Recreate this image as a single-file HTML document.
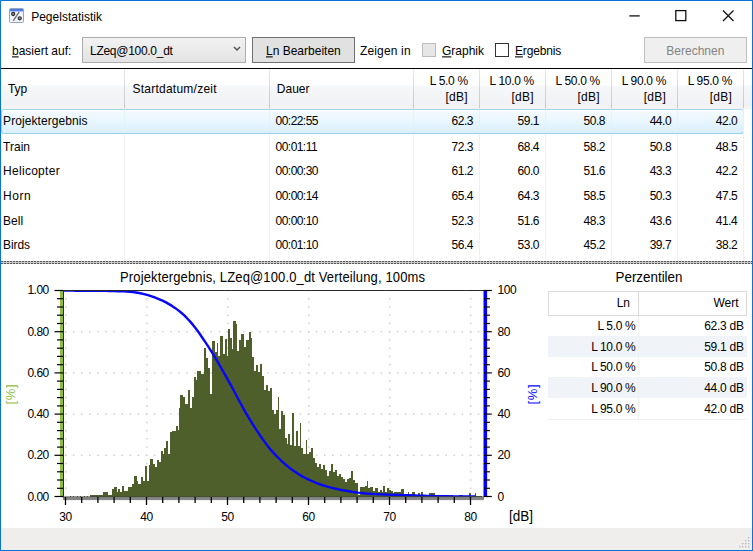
<!DOCTYPE html>
<html><head><meta charset="utf-8"><title>Pegelstatistik</title>
<style>
html,body{margin:0;padding:0;}
body{width:753px;height:551px;overflow:hidden;background:#fff;font-family:"Liberation Sans",sans-serif;font-size:12px;color:#000;position:relative;}
.a{position:absolute;white-space:nowrap;}
.t{position:absolute;white-space:nowrap;line-height:14px;height:14px;transform:scaleY(1.08);transform-origin:50% 55%;}
.r{text-align:right;}
u{text-decoration:underline;text-underline-offset:1px;}
.ar{font-family:"Liberation Sans",sans-serif;font-size:12px;letter-spacing:-0.5px;color:#000;}
</style></head><body>

<div class="a" style="left:0;top:0;width:753px;height:551px;background:#0a74d6;"></div>
<div class="a" style="left:1px;top:1px;width:751px;height:549px;background:#fff;"></div>
<svg class="a" style="left:9px;top:8px" width="15" height="15" viewBox="0 0 15 15">
<rect x="0.5" y="0.5" width="14" height="14" rx="1" fill="#eef2fb" stroke="#9aa1bb"/>
<rect x="1" y="1" width="13" height="2.4" fill="#4a7de6"/>
<path d="M10.2 3.9 L4.2 12.9" stroke="#6e6e6e" stroke-width="1.3" fill="none"/>
<circle cx="4.2" cy="6" r="1.6" fill="#8a8a8a" stroke="#2e2e2e" stroke-width="1.1"/>
<circle cx="10.7" cy="10.3" r="1.6" fill="#8a8a8a" stroke="#2e2e2e" stroke-width="1.1"/>
</svg>
<div class="t" style="left:31.2px;top:9.7px;">Pegelstatistik</div>
<svg class="a" style="left:620px;top:1px" width="131" height="30" viewBox="0 0 131 30">
<path d="M9.3 14.9h10.4" stroke="#111" stroke-width="1.3" fill="none"/>
<rect x="55.8" y="9.6" width="10" height="10" stroke="#111" stroke-width="1.3" fill="none"/>
<path d="M103 9.5l10.5 10.5M113.5 9.5l-10.5 10.5" stroke="#111" stroke-width="1.25" fill="none"/>
</svg>
<div class="t" style="left:12px;top:43.7px;"><u>b</u>asiert auf:</div>
<div class="a" style="left:82px;top:37px;width:162px;height:24px;border:1px solid #adadad;background:linear-gradient(#f2f2f2,#e3e3e3);box-sizing:content-box;"></div>
<div class="t" style="left:90px;top:43.7px;letter-spacing:-0.28px;">LZeq@100.0_dt</div>
<svg class="a" style="left:233px;top:46px" width="8" height="6" viewBox="0 0 8 6"><path d="M1 1l3 3L7 1" stroke="#555" stroke-width="1.5" fill="none"/></svg>
<div class="a" style="left:252px;top:37px;width:101px;height:24px;border:1px solid #707070;background:#e1e1e1;"></div>
<div class="t" style="left:266px;top:43.7px;"><u>L</u>n Bearbeiten</div>
<div class="t" style="left:360px;top:43.7px;letter-spacing:0.15px;">Zeigen in</div>
<div class="a" style="left:422px;top:43px;width:12px;height:12px;border:1px solid #bcbcbc;background:#e6e6e6;"></div>
<div class="t" style="left:442px;top:43.7px;"><u>G</u>raphik</div>
<div class="a" style="left:495px;top:43px;width:12px;height:12px;border:1px solid #333;background:#fff;"></div>
<div class="t" style="left:515px;top:43.7px;letter-spacing:-0.15px;"><u>E</u>rgebnis</div>
<div class="a" style="left:644px;top:37px;width:101px;height:24px;border:1px solid #bfbfbf;background:#efefef;"></div>
<div class="t" style="left:666.3px;top:43.7px;color:#838383;">Berechnen</div>
<div class="a" style="left:1px;top:68px;width:751px;height:1px;background:#000;"></div>
<div class="a" style="left:1px;top:69px;width:751px;height:39px;background:linear-gradient(#fff 0%,#fff 40%,#f6f7f9 45%,#f0f1f4 100%);"></div>
<div class="a" style="left:1px;top:106px;width:751px;height:3px;background:linear-gradient(#f4f0f2,#f3f8f3,#f1e9f0);"></div>
<div class="a" style="left:124px;top:69px;width:1px;height:39px;background:linear-gradient(#e8e8e8,#c4c6c9);"></div>
<div class="a" style="left:124px;top:109px;width:1px;height:153px;background:#f1f1f1;"></div>
<div class="a" style="left:269px;top:69px;width:1px;height:39px;background:linear-gradient(#e8e8e8,#c4c6c9);"></div>
<div class="a" style="left:269px;top:109px;width:1px;height:153px;background:#f1f1f1;"></div>
<div class="a" style="left:413px;top:69px;width:1px;height:39px;background:linear-gradient(#e8e8e8,#c4c6c9);"></div>
<div class="a" style="left:413px;top:109px;width:1px;height:153px;background:#f1f1f1;"></div>
<div class="a" style="left:479px;top:69px;width:1px;height:39px;background:linear-gradient(#e8e8e8,#c4c6c9);"></div>
<div class="a" style="left:479px;top:109px;width:1px;height:153px;background:#f1f1f1;"></div>
<div class="a" style="left:545px;top:69px;width:1px;height:39px;background:linear-gradient(#e8e8e8,#c4c6c9);"></div>
<div class="a" style="left:545px;top:109px;width:1px;height:153px;background:#f1f1f1;"></div>
<div class="a" style="left:611px;top:69px;width:1px;height:39px;background:linear-gradient(#e8e8e8,#c4c6c9);"></div>
<div class="a" style="left:611px;top:109px;width:1px;height:153px;background:#f1f1f1;"></div>
<div class="a" style="left:677px;top:69px;width:1px;height:39px;background:linear-gradient(#e8e8e8,#c4c6c9);"></div>
<div class="a" style="left:677px;top:109px;width:1px;height:153px;background:#f1f1f1;"></div>
<div class="a" style="left:743px;top:69px;width:1px;height:39px;background:linear-gradient(#e8e8e8,#c4c6c9);"></div>
<div class="a" style="left:743px;top:109px;width:1px;height:153px;background:#f1f1f1;"></div>
<div class="t" style="left:7.9px;top:81.8px;">Typ</div>
<div class="t" style="left:132.5px;top:81.8px;letter-spacing:0.24px;">Startdatum/zeit</div>
<div class="t" style="left:276.8px;top:81.8px;">Dauer</div>
<div class="t r" style="left:407.8px;width:60px;top:74.2px;letter-spacing:-0.33px;">L 5.0 %</div>
<div class="t r" style="left:407.8px;width:60px;top:89.5px;letter-spacing:0.25px;">[dB]</div>
<div class="t r" style="left:473.9px;width:60px;top:74.2px;letter-spacing:-0.33px;">L 10.0 %</div>
<div class="t r" style="left:473.9px;width:60px;top:89.5px;letter-spacing:0.25px;">[dB]</div>
<div class="t r" style="left:539.9px;width:60px;top:74.2px;letter-spacing:-0.33px;">L 50.0 %</div>
<div class="t r" style="left:539.9px;width:60px;top:89.5px;letter-spacing:0.25px;">[dB]</div>
<div class="t r" style="left:606.0px;width:60px;top:74.2px;letter-spacing:-0.33px;">L 90.0 %</div>
<div class="t r" style="left:606.0px;width:60px;top:89.5px;letter-spacing:0.25px;">[dB]</div>
<div class="t r" style="left:672.0px;width:60px;top:74.2px;letter-spacing:-0.33px;">L 95.0 %</div>
<div class="t r" style="left:672.0px;width:60px;top:89.5px;letter-spacing:0.25px;">[dB]</div>
<div class="a" style="left:1px;top:109px;width:741px;height:23px;border:1px solid #94d2f0;border-top-color:#a2d8ec;border-radius:3px;background:linear-gradient(#fdfeff 0,#f3fafe 8%,#e6f5fd 55%,#dbeffc 100%);"></div>
<div class="a" style="left:124px;top:110px;width:1px;height:23px;background:#e3f1f9;"></div>
<div class="a" style="left:269px;top:110px;width:1px;height:23px;background:#e3f1f9;"></div>
<div class="a" style="left:413px;top:110px;width:1px;height:23px;background:#e3f1f9;"></div>
<div class="a" style="left:479px;top:110px;width:1px;height:23px;background:#e3f1f9;"></div>
<div class="a" style="left:545px;top:110px;width:1px;height:23px;background:#e3f1f9;"></div>
<div class="a" style="left:611px;top:110px;width:1px;height:23px;background:#e3f1f9;"></div>
<div class="a" style="left:677px;top:110px;width:1px;height:23px;background:#e3f1f9;"></div>
<div class="a" style="left:743px;top:110px;width:1px;height:23px;background:#e3f1f9;"></div>
<div class="t" style="left:3.1px;top:114.4px;letter-spacing:0.07px;">Projektergebnis</div>
<div class="t" style="left:275.6px;top:114.4px;letter-spacing:-0.55px;">00:22:55</div>
<div class="t r" style="left:423.0px;width:50px;top:114.4px;letter-spacing:-0.45px;">62.3</div>
<div class="t r" style="left:489.1px;width:50px;top:114.4px;letter-spacing:-0.45px;">59.1</div>
<div class="t r" style="left:555.1px;width:50px;top:114.4px;letter-spacing:-0.45px;">50.8</div>
<div class="t r" style="left:621.2px;width:50px;top:114.4px;letter-spacing:-0.45px;">44.0</div>
<div class="t r" style="left:687.3px;width:50px;top:114.4px;letter-spacing:-0.45px;">42.0</div>
<div class="t" style="left:3.1px;top:139.6px;letter-spacing:0.00px;">Train</div>
<div class="t" style="left:275.6px;top:139.6px;letter-spacing:-0.55px;">00:01:11</div>
<div class="t r" style="left:423.0px;width:50px;top:139.6px;letter-spacing:-0.45px;">72.3</div>
<div class="t r" style="left:489.1px;width:50px;top:139.6px;letter-spacing:-0.45px;">68.4</div>
<div class="t r" style="left:555.1px;width:50px;top:139.6px;letter-spacing:-0.45px;">58.2</div>
<div class="t r" style="left:621.2px;width:50px;top:139.6px;letter-spacing:-0.45px;">50.8</div>
<div class="t r" style="left:687.3px;width:50px;top:139.6px;letter-spacing:-0.45px;">48.5</div>
<div class="t" style="left:3.1px;top:164.3px;letter-spacing:0.28px;">Helicopter</div>
<div class="t" style="left:275.6px;top:164.3px;letter-spacing:-0.55px;">00:00:30</div>
<div class="t r" style="left:423.0px;width:50px;top:164.3px;letter-spacing:-0.45px;">61.2</div>
<div class="t r" style="left:489.1px;width:50px;top:164.3px;letter-spacing:-0.45px;">60.0</div>
<div class="t r" style="left:555.1px;width:50px;top:164.3px;letter-spacing:-0.45px;">51.6</div>
<div class="t r" style="left:621.2px;width:50px;top:164.3px;letter-spacing:-0.45px;">43.3</div>
<div class="t r" style="left:687.3px;width:50px;top:164.3px;letter-spacing:-0.45px;">42.2</div>
<div class="t" style="left:3.1px;top:188.9px;letter-spacing:0.50px;">Horn</div>
<div class="t" style="left:275.6px;top:188.9px;letter-spacing:-0.55px;">00:00:14</div>
<div class="t r" style="left:423.0px;width:50px;top:188.9px;letter-spacing:-0.45px;">65.4</div>
<div class="t r" style="left:489.1px;width:50px;top:188.9px;letter-spacing:-0.45px;">64.3</div>
<div class="t r" style="left:555.1px;width:50px;top:188.9px;letter-spacing:-0.45px;">58.5</div>
<div class="t r" style="left:621.2px;width:50px;top:188.9px;letter-spacing:-0.45px;">50.3</div>
<div class="t r" style="left:687.3px;width:50px;top:188.9px;letter-spacing:-0.45px;">47.5</div>
<div class="t" style="left:3.1px;top:213.6px;letter-spacing:0.00px;">Bell</div>
<div class="t" style="left:275.6px;top:213.6px;letter-spacing:-0.55px;">00:00:10</div>
<div class="t r" style="left:423.0px;width:50px;top:213.6px;letter-spacing:-0.45px;">52.3</div>
<div class="t r" style="left:489.1px;width:50px;top:213.6px;letter-spacing:-0.45px;">51.6</div>
<div class="t r" style="left:555.1px;width:50px;top:213.6px;letter-spacing:-0.45px;">48.3</div>
<div class="t r" style="left:621.2px;width:50px;top:213.6px;letter-spacing:-0.45px;">43.6</div>
<div class="t r" style="left:687.3px;width:50px;top:213.6px;letter-spacing:-0.45px;">41.4</div>
<div class="t" style="left:3.1px;top:238.3px;letter-spacing:-0.10px;">Birds</div>
<div class="t" style="left:275.6px;top:238.3px;letter-spacing:-0.55px;">00:01:10</div>
<div class="t r" style="left:423.0px;width:50px;top:238.3px;letter-spacing:-0.45px;">56.4</div>
<div class="t r" style="left:489.1px;width:50px;top:238.3px;letter-spacing:-0.45px;">53.0</div>
<div class="t r" style="left:555.1px;width:50px;top:238.3px;letter-spacing:-0.45px;">45.2</div>
<div class="t r" style="left:621.2px;width:50px;top:238.3px;letter-spacing:-0.45px;">39.7</div>
<div class="t r" style="left:687.3px;width:50px;top:238.3px;letter-spacing:-0.45px;">38.2</div>
<div class="a" style="left:1px;top:261px;width:751px;height:3px;background:#c9c9c9;"></div>
<div class="a" style="left:1px;top:261px;width:751px;height:1px;background-image:repeating-linear-gradient(90deg,#5a5a5a 0 2px,#c4c4c4 2px 3px);"></div>
<div class="a" style="left:1px;top:263px;width:751px;height:1px;background-image:repeating-linear-gradient(90deg,#5a5a5a 0 2px,#c4c4c4 2px 3px);"></div>
<div class="a" style="left:1px;top:528px;width:751px;height:22px;background:#f0eded;"></div>
<svg class="a" style="left:738.3px;top:536.1px" width="13" height="13" viewBox="0 0 13 13" fill="#b4b4be">
<rect x="10" y="1" width="1.3" height="1.3"/><rect x="7" y="4" width="1.3" height="1.3"/><rect x="10" y="4" width="1.3" height="1.3"/>
<rect x="4" y="7" width="1.3" height="1.3"/><rect x="7" y="7" width="1.3" height="1.3"/><rect x="10" y="7" width="1.3" height="1.3"/>
<rect x="1" y="10" width="1.3" height="1.3"/><rect x="4" y="10" width="1.3" height="1.3"/><rect x="7" y="10" width="1.3" height="1.3"/><rect x="10" y="10" width="1.3" height="1.3"/>
</svg>
<svg class="a" style="left:0;top:0" width="753" height="551" viewBox="0 0 753 551">
<path d="M64.7 331.7H484" stroke="#d2d2d2" stroke-width="1.5" stroke-dasharray="1.6 6.5" fill="none"/>
<path d="M64.7 372.9H484" stroke="#d2d2d2" stroke-width="1.5" stroke-dasharray="1.6 6.5" fill="none"/>
<path d="M64.7 414.1H484" stroke="#d2d2d2" stroke-width="1.5" stroke-dasharray="1.6 6.5" fill="none"/>
<path d="M64.7 455.3H484" stroke="#d2d2d2" stroke-width="1.5" stroke-dasharray="1.6 6.5" fill="none"/>
<path d="M65.8 289.7V496" stroke="#d2d2d2" stroke-width="1.5" stroke-dasharray="1.6 6.64" fill="none"/>
<path d="M146.8 289.7V496" stroke="#d2d2d2" stroke-width="1.5" stroke-dasharray="1.6 6.64" fill="none"/>
<path d="M227.8 289.7V496" stroke="#d2d2d2" stroke-width="1.5" stroke-dasharray="1.6 6.64" fill="none"/>
<path d="M308.8 289.7V496" stroke="#d2d2d2" stroke-width="1.5" stroke-dasharray="1.6 6.64" fill="none"/>
<path d="M389.8 289.7V496" stroke="#d2d2d2" stroke-width="1.5" stroke-dasharray="1.6 6.64" fill="none"/>
<path d="M470.8 289.7V496" stroke="#d2d2d2" stroke-width="1.5" stroke-dasharray="1.6 6.64" fill="none"/>
<path d="M64 496.5H64.0V496.5H66.5V495.7H67.0V496.5H70.0V495.7H71.0V496.5H73.0V495.7H74.0V496.5H77.0V495.7H78.0V496.5H80.0V495.7H81.0V496.5H84.0V495.7H85.0V496.5H87.0V495.7H88.0V496.5H90.0V495.2H103.0V492.2H108.0V495.2H111.5V489.2H114.0V487.2H116.5V491.8H118.0V489.2H120.0V492.2H121.5V486.2H124.0V490.8H128.0V487.2H132.0V483.8H134.0V475.8H136.5V480.8H138.0V483.8H140.5V476.8H142.5V480.8H144.5V466.2H146.5V480.8H148.5V464.9H150.0V458.9H152.5V464.3H154.5V466.8H156.5V460.3H159.0V461.9H160.5V450.9H162.5V453.9H164.0V447.9H166.0V440.9H168.0V453.9H170.0V431.9H172.0V430.9H175.5V425.9H177.5V429.9H179.0V408.0H180.0V394.8H182.5V397.4H184.5V403.8H187.5V390.2H189.5V407.8H191.5V396.8H193.5V376.8H196.0V379.8H197.0V370.9H201.0V373.9H204.0V347.5H206.0V357.9H208.0V367.9H210.0V393.8H212.0V340.9H215.0V351.9H217.0V342.9H218.0V355.9H219.5V335.5H222.5V353.9H224.5V338.9H226.5V355.9H228.0V328.9H230.0V337.9H231.5V348.9H233.0V321.0H235.5V324.0H237.0V350.9H239.0V339.9H241.0V334.3H244.0V346.9H246.0V339.9H248.5V331.9H250.5V337.9H251.5V356.9H253.5V370.9H255.5V364.9H258.0V371.9H260.0V363.5H262.0V375.8H264.0V389.8H266.0V384.8H268.0V390.8H270.0V388.0H271.5V410.0H273.5V414.0H276.0V410.0H277.5V397.0H279.0V428.9H281.0V411.0H283.0V415.0H284.5V437.9H286.5V443.9H288.0V433.9H290.0V444.9H292.0V413.0H294.0V445.9H296.0V430.9H298.0V445.9H299.5V422.9H301.0V447.9H303.0V453.9H305.5V439.9H307.0V453.9H309.0V451.9H311.0V448.3H313.0V457.9H315.0V462.9H317.0V466.8H319.0V464.3H321.0V468.8H322.5V464.9H324.5V469.8H326.5V475.8H328.5V470.8H330.5V463.9H332.5V471.8H334.5V469.8H336.5V475.8H338.5V473.8H340.5V476.8H342.5V478.8H345.0V481.8H347.0V479.4H349.0V477.8H351.0V470.8H352.5V479.8H354.5V482.8H357.5V494.8H360.0V487.2H362.0V486.8H364.5V485.8H366.5V481.4H368.0V487.8H370.0V486.7H373.0V491.4H375.0V487.5H378.0V492.2H380.0V489.8H381.5V491.8H382.5V486.3H384.5V492.2H386.5V487.5H389.0V489.5H390.5V491.1H392.5V493.3H394.0V492.4H401.0V489.0H404.0V494.9H407.5V492.2H409.0V494.1H412.0V492.2H414.5V495.6H418.0V493.3H419.5V495.3H421.0V492.2H422.5V495.6H429.0V493.0H435.0V495.6H440.0V495.1H441.5V495.7H449.5V495.3H453.0V495.7H459.0V495.3H462.5V495.7H469.0V493.3H471.0V495.7H474.5V493.3H476.0V495.9H481.5V496.5H485V496.5Z" fill="#4f5f2b" shape-rendering="crispEdges"/>
<clipPath id="cc"><rect x="64" y="290.6" width="412" height="205.9"/></clipPath>
<path d="M64.0 290.6 L67.0 290.6 L70.0 290.6 L73.0 290.6 L76.0 290.7 L79.0 290.7 L82.0 290.7 L85.0 290.7 L88.0 290.7 L91.0 290.7 L94.0 290.8 L97.0 290.8 L100.0 290.8 L103.0 290.8 L106.0 290.9 L109.0 291.0 L112.0 291.0 L115.0 291.1 L118.0 291.2 L121.0 291.3 L124.0 291.4 L127.0 291.6 L130.0 291.8 L133.0 292.1 L136.0 292.5 L139.0 293.0 L142.0 293.7 L145.0 294.4 L148.0 295.2 L151.0 296.1 L154.0 297.1 L157.0 298.3 L160.0 299.6 L163.0 300.9 L166.0 302.4 L169.0 304.1 L172.0 305.9 L175.0 307.9 L178.0 310.1 L181.0 312.5 L184.0 315.2 L187.0 318.2 L190.0 321.4 L193.0 324.9 L196.0 328.7 L199.0 332.8 L202.0 337.2 L205.0 341.6 L208.0 346.2 L211.0 350.9 L214.0 355.7 L217.0 360.7 L220.0 365.9 L223.0 371.1 L226.0 376.4 L229.0 381.8 L232.0 387.2 L235.0 392.7 L238.0 398.5 L241.0 404.2 L244.0 409.6 L247.0 414.8 L250.0 419.8 L253.0 424.6 L256.0 429.3 L259.0 433.8 L262.0 438.2 L265.0 442.4 L268.0 446.4 L271.0 450.1 L274.0 453.4 L277.0 456.6 L280.0 459.5 L283.0 462.3 L286.0 465.0 L289.0 467.4 L292.0 469.7 L295.0 471.8 L298.0 473.8 L301.0 475.6 L304.0 477.2 L307.0 478.8 L310.0 480.2 L313.0 481.5 L316.0 482.8 L319.0 483.9 L322.0 485.0 L325.0 485.9 L328.0 486.8 L331.0 487.6 L334.0 488.3 L337.0 489.0 L340.0 489.7 L343.0 490.3 L346.0 490.8 L349.0 491.3 L352.0 491.8 L355.0 492.2 L358.0 492.6 L361.0 492.9 L364.0 493.3 L367.0 493.6 L370.0 493.8 L373.0 494.0 L376.0 494.1 L379.0 494.3 L382.0 494.4 L385.0 494.5 L388.0 494.6 L391.0 494.7 L394.0 494.8 L397.0 494.9 L400.0 495.0 L403.0 495.1 L406.0 495.2 L409.0 495.3 L412.0 495.4 L415.0 495.5 L418.0 495.6 L421.0 495.7 L424.0 495.8 L427.0 495.9 L430.0 495.9 L433.0 496.0 L436.0 496.1 L439.0 496.2 L442.0 496.2 L445.0 496.3 L448.0 496.3 L451.0 496.4 L454.0 496.4 L457.0 496.4 L460.0 496.4 L463.0 496.5 L466.0 496.5 L469.0 496.5 L472.0 496.5 L475.0 496.5 L478.0 496.6 L481.0 496.6 L484.0 496.6" stroke="#0606f8" stroke-width="2.4" fill="none" stroke-linejoin="round" clip-path="url(#cc)"/>
<path d="M63 290.5H484" stroke="#2a2a2a" stroke-width="1" fill="none"/>
<path d="M63.5 290V497.5" stroke="#2a2a2a" stroke-width="1" fill="none"/>
<rect x="63" y="497.5" width="421" height="2.6" fill="#868686"/>
<rect x="63" y="496.5" width="421" height="1" fill="#3a3a3a"/>
<rect x="60" y="290" width="3" height="207" fill="#8ebe41"/>
<path d="M54.5 290.5H63" stroke="#000" stroke-width="1.2"/>
<path d="M57.0 298.7H63" stroke="#000" stroke-width="1.2"/>
<path d="M57.0 307.0H63" stroke="#000" stroke-width="1.2"/>
<path d="M57.0 315.2H63" stroke="#000" stroke-width="1.2"/>
<path d="M57.0 323.5H63" stroke="#000" stroke-width="1.2"/>
<path d="M54.5 331.7H63" stroke="#000" stroke-width="1.2"/>
<path d="M57.0 339.9H63" stroke="#000" stroke-width="1.2"/>
<path d="M57.0 348.2H63" stroke="#000" stroke-width="1.2"/>
<path d="M57.0 356.4H63" stroke="#000" stroke-width="1.2"/>
<path d="M57.0 364.7H63" stroke="#000" stroke-width="1.2"/>
<path d="M54.5 372.9H63" stroke="#000" stroke-width="1.2"/>
<path d="M57.0 381.1H63" stroke="#000" stroke-width="1.2"/>
<path d="M57.0 389.4H63" stroke="#000" stroke-width="1.2"/>
<path d="M57.0 397.6H63" stroke="#000" stroke-width="1.2"/>
<path d="M57.0 405.9H63" stroke="#000" stroke-width="1.2"/>
<path d="M54.5 414.1H63" stroke="#000" stroke-width="1.2"/>
<path d="M57.0 422.3H63" stroke="#000" stroke-width="1.2"/>
<path d="M57.0 430.6H63" stroke="#000" stroke-width="1.2"/>
<path d="M57.0 438.8H63" stroke="#000" stroke-width="1.2"/>
<path d="M57.0 447.1H63" stroke="#000" stroke-width="1.2"/>
<path d="M54.5 455.3H63" stroke="#000" stroke-width="1.2"/>
<path d="M57.0 463.5H63" stroke="#000" stroke-width="1.2"/>
<path d="M57.0 471.8H63" stroke="#000" stroke-width="1.2"/>
<path d="M57.0 480.0H63" stroke="#000" stroke-width="1.2"/>
<path d="M57.0 488.3H63" stroke="#000" stroke-width="1.2"/>
<path d="M54.5 496.5H63" stroke="#000" stroke-width="1.2"/>
<rect x="483.5" y="290" width="3.6" height="207" fill="#0000fa"/>
<path d="M484 290.5H491.8" stroke="#000" stroke-width="1.2"/>
<path d="M484 298.7H489.9" stroke="#000" stroke-width="1.2"/>
<path d="M484 307.0H489.9" stroke="#000" stroke-width="1.2"/>
<path d="M484 315.2H489.9" stroke="#000" stroke-width="1.2"/>
<path d="M484 323.5H489.9" stroke="#000" stroke-width="1.2"/>
<path d="M484 331.7H491.8" stroke="#000" stroke-width="1.2"/>
<path d="M484 339.9H489.9" stroke="#000" stroke-width="1.2"/>
<path d="M484 348.2H489.9" stroke="#000" stroke-width="1.2"/>
<path d="M484 356.4H489.9" stroke="#000" stroke-width="1.2"/>
<path d="M484 364.7H489.9" stroke="#000" stroke-width="1.2"/>
<path d="M484 372.9H491.8" stroke="#000" stroke-width="1.2"/>
<path d="M484 381.1H489.9" stroke="#000" stroke-width="1.2"/>
<path d="M484 389.4H489.9" stroke="#000" stroke-width="1.2"/>
<path d="M484 397.6H489.9" stroke="#000" stroke-width="1.2"/>
<path d="M484 405.9H489.9" stroke="#000" stroke-width="1.2"/>
<path d="M484 414.1H491.8" stroke="#000" stroke-width="1.2"/>
<path d="M484 422.3H489.9" stroke="#000" stroke-width="1.2"/>
<path d="M484 430.6H489.9" stroke="#000" stroke-width="1.2"/>
<path d="M484 438.8H489.9" stroke="#000" stroke-width="1.2"/>
<path d="M484 447.1H489.9" stroke="#000" stroke-width="1.2"/>
<path d="M484 455.3H491.8" stroke="#000" stroke-width="1.2"/>
<path d="M484 463.5H489.9" stroke="#000" stroke-width="1.2"/>
<path d="M484 471.8H489.9" stroke="#000" stroke-width="1.2"/>
<path d="M484 480.0H489.9" stroke="#000" stroke-width="1.2"/>
<path d="M484 488.3H489.9" stroke="#000" stroke-width="1.2"/>
<path d="M484 496.5H491.8" stroke="#000" stroke-width="1.2"/>
<path d="M65.5 497V505.0" stroke="#000" stroke-width="1.3"/>
<path d="M81.7 497V503.0" stroke="#000" stroke-width="1.3"/>
<path d="M97.9 497V503.0" stroke="#000" stroke-width="1.3"/>
<path d="M114.1 497V503.0" stroke="#000" stroke-width="1.3"/>
<path d="M130.3 497V503.0" stroke="#000" stroke-width="1.3"/>
<path d="M146.5 497V505.0" stroke="#000" stroke-width="1.3"/>
<path d="M162.7 497V503.0" stroke="#000" stroke-width="1.3"/>
<path d="M178.9 497V503.0" stroke="#000" stroke-width="1.3"/>
<path d="M195.1 497V503.0" stroke="#000" stroke-width="1.3"/>
<path d="M211.3 497V503.0" stroke="#000" stroke-width="1.3"/>
<path d="M227.5 497V505.0" stroke="#000" stroke-width="1.3"/>
<path d="M243.7 497V503.0" stroke="#000" stroke-width="1.3"/>
<path d="M259.9 497V503.0" stroke="#000" stroke-width="1.3"/>
<path d="M276.1 497V503.0" stroke="#000" stroke-width="1.3"/>
<path d="M292.3 497V503.0" stroke="#000" stroke-width="1.3"/>
<path d="M308.5 497V505.0" stroke="#000" stroke-width="1.3"/>
<path d="M324.7 497V503.0" stroke="#000" stroke-width="1.3"/>
<path d="M340.9 497V503.0" stroke="#000" stroke-width="1.3"/>
<path d="M357.1 497V503.0" stroke="#000" stroke-width="1.3"/>
<path d="M373.3 497V503.0" stroke="#000" stroke-width="1.3"/>
<path d="M389.5 497V505.0" stroke="#000" stroke-width="1.3"/>
<path d="M405.7 497V503.0" stroke="#000" stroke-width="1.3"/>
<path d="M421.9 497V503.0" stroke="#000" stroke-width="1.3"/>
<path d="M438.1 497V503.0" stroke="#000" stroke-width="1.3"/>
<path d="M454.3 497V503.0" stroke="#000" stroke-width="1.3"/>
<path d="M470.5 497V505.0" stroke="#000" stroke-width="1.3"/>
</svg>
<div class="t ar r" style="left:10px;width:38.8px;top:282.6px;">1.00</div>
<div class="t ar r" style="left:10px;width:38.8px;top:324.7px;">0.80</div>
<div class="t ar r" style="left:10px;width:38.8px;top:365.9px;">0.60</div>
<div class="t ar r" style="left:10px;width:38.8px;top:407.1px;">0.40</div>
<div class="t ar r" style="left:10px;width:38.8px;top:448.3px;">0.20</div>
<div class="t ar r" style="left:10px;width:38.8px;top:489.5px;">0.00</div>
<div class="t ar" style="left:497.6px;top:282.6px;">100</div>
<div class="t ar" style="left:497.6px;top:324.7px;">80</div>
<div class="t ar" style="left:497.6px;top:365.9px;">60</div>
<div class="t ar" style="left:497.6px;top:407.1px;">40</div>
<div class="t ar" style="left:497.6px;top:448.3px;">20</div>
<div class="t ar" style="left:497.6px;top:489.5px;">0</div>
<div class="t ar" style="left:50.5px;width:30px;text-align:center;top:510px;">30</div>
<div class="t ar" style="left:131.5px;width:30px;text-align:center;top:510px;">40</div>
<div class="t ar" style="left:212.5px;width:30px;text-align:center;top:510px;">50</div>
<div class="t ar" style="left:293.5px;width:30px;text-align:center;top:510px;">60</div>
<div class="t ar" style="left:374.5px;width:30px;text-align:center;top:510px;">70</div>
<div class="t ar" style="left:455.5px;width:30px;text-align:center;top:510px;">80</div>
<div class="t" style="left:509px;top:510px;font-size:13.5px;">[dB]</div>
<div class="t" style="left:120px;top:270.6px;font-size:13px;letter-spacing:0.135px;">Projektergebnis, LZeq@100.0_dt Verteilung, 100ms</div>
<div class="t" style="left:-4.3px;top:387.4px;width:30px;text-align:center;font-size:13px;letter-spacing:0.7px;color:#8ebe41;transform:rotate(-90deg);transform-origin:50% 50%;">[%]</div>
<div class="t" style="left:518.4px;top:387.4px;width:30px;text-align:center;font-size:13px;letter-spacing:0.7px;color:#0808ff;transform:rotate(-90deg);transform-origin:50% 50%;">[%]</div>
<div class="t" style="left:615.5px;top:271px;font-size:13.4px;">Perzentilen</div>
<div class="a" style="left:548px;top:291px;width:197px;height:23px;border:1px solid #d9d9d9;background:#fff;"></div>
<div class="a" style="left:638px;top:292px;width:1px;height:23px;background:#d9d9d9;"></div>
<div class="t r" style="left:570px;width:60px;top:295.6px;">Ln</div>
<div class="t r" style="left:678.5px;width:60px;top:295.6px;">Wert</div>
<div class="t r" style="left:575.3px;width:60px;top:318.9px;letter-spacing:-0.35px;">L 5.0 %</div>
<div class="t r" style="left:683.8px;width:60px;top:318.9px;letter-spacing:-0.25px;">62.3 dB</div>
<div class="a" style="left:548px;top:335.9px;width:199px;height:20.7px;background:#f0f4f9;"></div>
<div class="t r" style="left:575.3px;width:60px;top:339.6px;letter-spacing:-0.35px;">L 10.0 %</div>
<div class="t r" style="left:683.8px;width:60px;top:339.6px;letter-spacing:-0.25px;">59.1 dB</div>
<div class="t r" style="left:575.3px;width:60px;top:360.3px;letter-spacing:-0.35px;">L 50.0 %</div>
<div class="t r" style="left:683.8px;width:60px;top:360.3px;letter-spacing:-0.25px;">50.8 dB</div>
<div class="a" style="left:548px;top:377.4px;width:199px;height:20.7px;background:#f0f4f9;"></div>
<div class="t r" style="left:575.3px;width:60px;top:381.1px;letter-spacing:-0.35px;">L 90.0 %</div>
<div class="t r" style="left:683.8px;width:60px;top:381.1px;letter-spacing:-0.25px;">44.0 dB</div>
<div class="t r" style="left:575.3px;width:60px;top:401.8px;letter-spacing:-0.35px;">L 95.0 %</div>
<div class="t r" style="left:683.8px;width:60px;top:401.8px;letter-spacing:-0.25px;">42.0 dB</div>
<div class="a" style="left:638px;top:316px;width:1px;height:103px;background:#eef0f2;"></div>
<div class="a" style="left:548px;top:419px;width:199px;height:1px;background:#eef0f2;"></div>
</body></html>
